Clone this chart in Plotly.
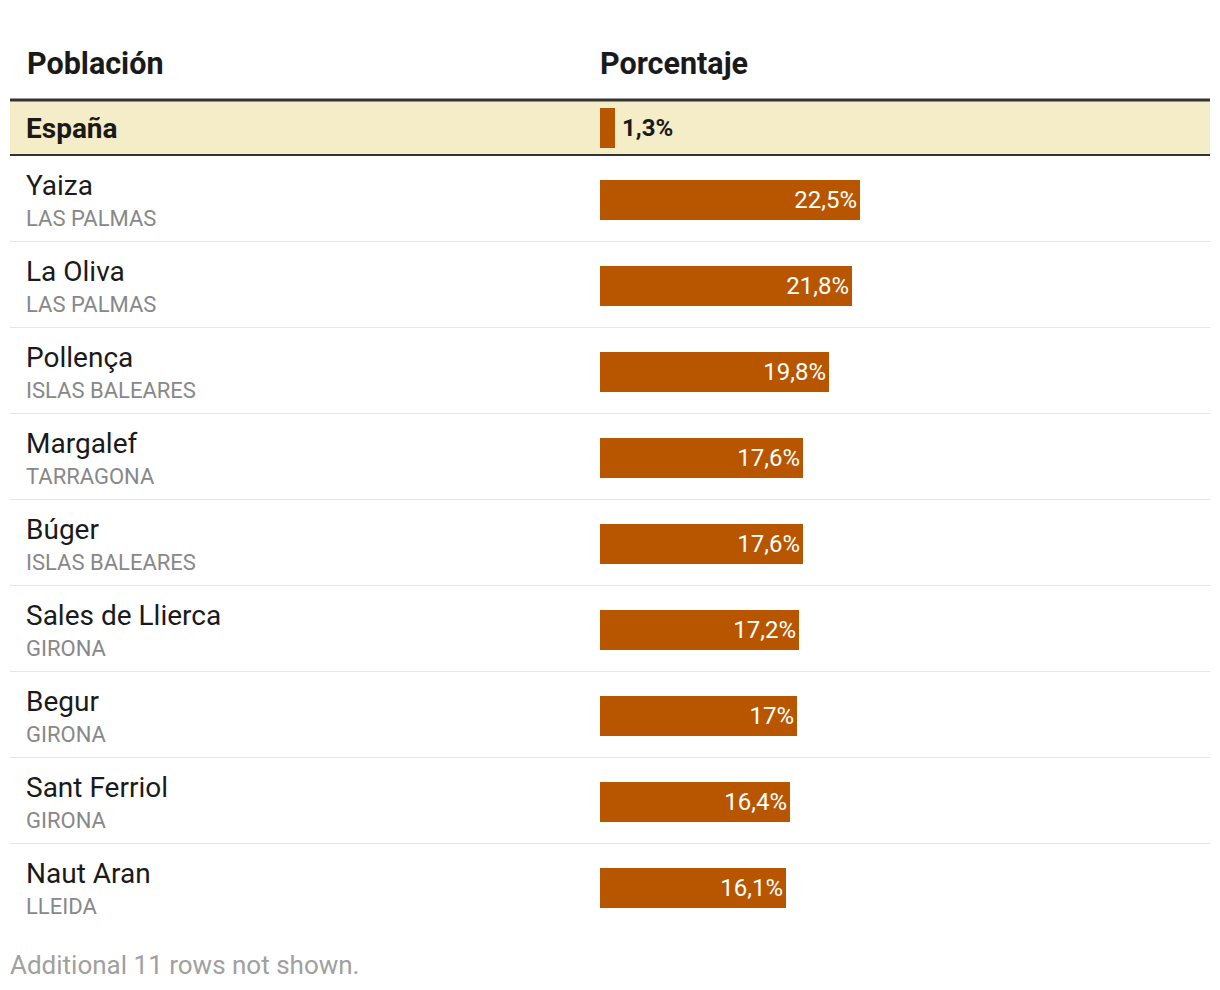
import plotly.graph_objects as go

# ---- data ----
header_names = ["Población", "Porcentaje"]
summary_name = "España"
summary_value = 1.3
places = ["Yaiza", "La Oliva", "Pollença", "Margalef", "Búger",
          "Sales de Llierca", "Begur", "Sant Ferriol", "Naut Aran"]
provinces = ["LAS PALMAS", "LAS PALMAS", "ISLAS BALEARES", "TARRAGONA",
             "ISLAS BALEARES", "GIRONA", "GIRONA", "GIRONA", "LLEIDA"]
values = [22.5, 21.8, 19.8, 17.6, 17.6, 17.2, 17.0, 16.4, 16.1]
footer = "Additional 11 rows not shown."

# ---- layout constants (page pixels; body margin offset removed below) ----
OFF = 8
TXT_SHIFT = -3
W, H = 1220 - OFF, 990 - OFF
LEFT, RIGHT = 10 - OFF, 1210 - OFF
NAME_X = 27 - OFF
BAR_X0 = 600 - OFF
PX_PER_UNIT = 11.56
HEADER_Y = 63 - OFF
TOP_LINE_Y = 100 - OFF
SUM_TOP, SUM_BOT = 101 - OFF, 154 - OFF
SUM_CENTER = 128 - OFF
SUM_LINE_Y = 155 - OFF
ROW0_TOP = 156 - OFF
ROW_H = 86
BAR_T = 40
BAR_COLOR = "#B85600"
FONT = "Roboto"

def px(x):
    return x / W

row_bar_y = [ROW0_TOP + ROW_H * i + 44 for i in range(len(places))]

fig = go.Figure()

fig.add_trace(go.Bar(
    x=[summary_value], y=[SUM_CENTER], orientation="h", width=BAR_T,
    marker=dict(color=BAR_COLOR, line=dict(width=0)),
    hoverinfo="skip", showlegend=False,
))

fig.add_trace(go.Bar(
    x=values, y=row_bar_y, orientation="h", width=BAR_T,
    marker=dict(color=BAR_COLOR, line=dict(width=0)),
    texttemplate="%{x}%", textposition="inside", insidetextanchor="end",
    textfont=dict(family=FONT, size=24, color="white"),
    hoverinfo="skip", showlegend=False,
))

shapes = []
shapes.append(dict(type="rect", xref="paper", yref="y", x0=px(LEFT), x1=px(RIGHT),
                   y0=SUM_TOP, y1=SUM_BOT, fillcolor="#F5ECC8", line=dict(width=0), layer="below"))
shapes.append(dict(type="line", xref="paper", yref="y", x0=px(LEFT), x1=px(RIGHT),
                   y0=TOP_LINE_Y, y1=TOP_LINE_Y, line=dict(color="#333333", width=3)))
shapes.append(dict(type="line", xref="paper", yref="y", x0=px(LEFT), x1=px(RIGHT),
                   y0=SUM_LINE_Y, y1=SUM_LINE_Y, line=dict(color="#333333", width=2)))
for i in range(len(places) - 1):
    yy = ROW0_TOP + ROW_H * (i + 1) - 0.5
    shapes.append(dict(type="line", xref="paper", yref="y", x0=px(LEFT), x1=px(RIGHT),
                       y0=yy, y1=yy, line=dict(color="#E6E6E6", width=1)))

ann = []
for txt, xx in zip(header_names, [NAME_X, BAR_X0]):
    ann.append(dict(text=f"<b>{txt}</b>", xref="paper", yref="y", x=px(xx), y=HEADER_Y,
                    xshift=TXT_SHIFT + 1, xanchor="left", yanchor="middle", showarrow=False,
                    font=dict(family=FONT, size=30.5, color="#1a1a1a")))
ann.append(dict(text=f"<b>{summary_name}</b>", xref="paper", yref="y", x=px(NAME_X), y=SUM_CENTER,
                xshift=TXT_SHIFT, xanchor="left", yanchor="middle", showarrow=False,
                font=dict(family=FONT, size=28, color="#1a1a1a")))
ann.append(dict(text="<b>" + f"{summary_value:.1f}".replace(".", ",") + "%</b>",
                xref="x", yref="y", x=summary_value, y=SUM_CENTER, xshift=5,
                xanchor="left", yanchor="middle", showarrow=False,
                font=dict(family=FONT, size=24, color="#1a1a1a")))
for i, (n, p) in enumerate(zip(places, provinces)):
    top = ROW0_TOP + ROW_H * i
    ann.append(dict(text=n, xref="paper", yref="y", x=px(NAME_X), y=top + 29,
                    xshift=TXT_SHIFT, xanchor="left", yanchor="middle", showarrow=False,
                    font=dict(family=FONT, size=28, color="#1a1a1a")))
    ann.append(dict(text=p, xref="paper", yref="y", x=px(NAME_X), y=top + 62,
                    xshift=TXT_SHIFT, xanchor="left", yanchor="middle", showarrow=False,
                    font=dict(family=FONT, size=22, color="#888888")))
ann.append(dict(text=footer, xref="paper", yref="y", x=px(11 - OFF), y=965 - OFF,
                xshift=TXT_SHIFT, xanchor="left", yanchor="middle", showarrow=False,
                font=dict(family=FONT, size=26, color="#A0A0A0")))

fig.update_layout(
    width=W, height=H, margin=dict(l=0, r=0, t=0, b=0),
    paper_bgcolor="white", plot_bgcolor="rgba(0,0,0,0)",
    separators=",.",
    xaxis=dict(domain=[px(BAR_X0), 1], range=[0, (W - BAR_X0) / PX_PER_UNIT],
               visible=False, fixedrange=True),
    yaxis=dict(domain=[0, 1], range=[H, 0], visible=False, fixedrange=True),
    shapes=shapes, annotations=ann, bargap=0,
)

fig.write_html("out.html")
